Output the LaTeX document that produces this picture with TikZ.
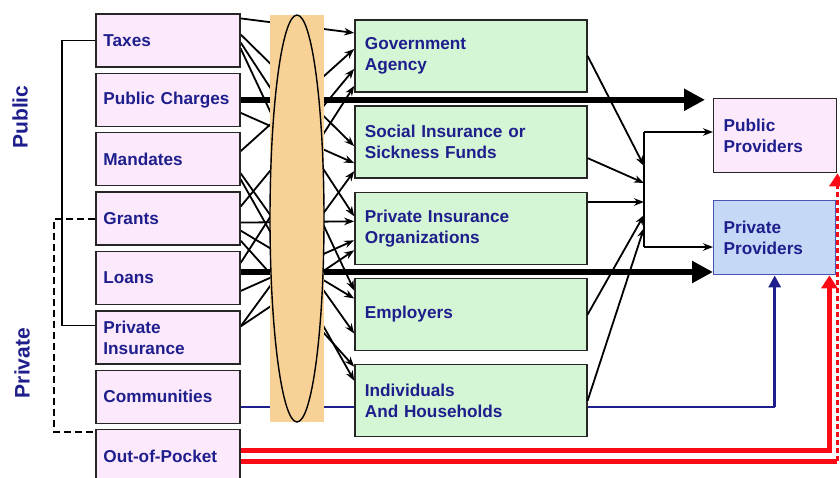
\documentclass[tikz,border=0pt]{standalone}
\usepackage{fontspec}
\setmainfont{Liberation Sans}
\usetikzlibrary{matrix,arrows.meta}

\definecolor{srcpink}{RGB}{252,233,252}
\definecolor{agentgreen}{RGB}{212,246,212}
\definecolor{privblue}{RGB}{197,216,246}
\definecolor{privedge}{RGB}{72,84,180}
\definecolor{poolorange}{RGB}{248,209,150}
\definecolor{labelnavy}{RGB}{30,30,140}
\definecolor{flowred}{RGB}{250,10,20}

\pgfdeclarelayer{back}
\pgfdeclarelayer{pool}
\pgfsetlayers{back,pool,main}

\begin{document}
\begin{tikzpicture}[x=1pt, y=-1pt,
	box/.style={draw=black!85, line width=1.4pt, align=left, anchor=center,
		text=labelnavy, font=\fontsize{17.2}{21}\selectfont\bfseries},
	srcbox/.style={box, fill=srcpink, text width=129pt, inner xsep=7.5pt, minimum height=53pt},
	agentbox/.style={box, fill=agentgreen, text width=212pt, inner xsep=10pt, minimum height=72pt},
	provbox/.style={box, anchor=north west, inner xsep=10pt, minimum height=74pt},
	sidelabel/.style={rotate=90, text=labelnavy, font=\fontsize{21}{25}\selectfont\bfseries},
	conn/.style={line width=1.8pt, -{Stealth[length=10pt,width=7.5pt]}},
	bigflow/.style={line width=6.5pt, -{Triangle[length=21pt,width=21pt]}},
	redflow/.style={flowred, line width=4.8pt, -{Triangle[length=13pt,width=16pt]}}]

	\useasboundingbox (0,0) rectangle (840,477);

	% where the money comes from
	\matrix (sources) [matrix of nodes, anchor=north west, inner sep=0pt,
	row sep=5.0pt, nodes={srcbox}] at (95,13)
	{
		|(taxes)| Taxes \\
		|(pubch)| Public Charges \\
		|(mand)| Mandates \\
		|(grants)| Grants \\
		|(loans)| Loans \\
		|(privins)| {Private\\Insurance} \\
		|(comm)| Communities \\
		|(oop)| Out-of-Pocket \\
	};

	% who pools it
	\matrix (agents) [matrix of nodes, anchor=north west, inner sep=0pt,
	row sep=12.8pt, nodes={agentbox}] at (354,19)
	{
		|(gov)| {Government\\Agency} \\
		|(sick)| {Social Insurance or\\Sickness Funds} \\
		|(pio)| {Private Insurance\\Organizations} \\
		|(emp)| Employers \\
		|(ind)| {Individuals\\And Households} \\
	};

	% who gets paid
	\node[provbox, fill=srcpink, text width=103pt] (pubprov) at (713,98) {Public\\Providers};
	\node[provbox, fill=privblue, draw=privedge, text width=102pt] (privprov) at (713,200) {Private\\Providers};

	\node[sidelabel] (publbl) at (20,117) {Public};
	\node[sidelabel] (privlbl) at (22,363) {Private};

	% brackets on the left
	\draw[line width=1.6pt] (taxes.west) -- ++(-33,0) |- ([yshift=12pt]privins.west);
	\draw[line width=1.8pt, dash pattern=on 7pt off 4pt] (grants.west) -- ++(-41,0) |- ([yshift=-3pt]oop.north west);

	% merge point in front of the providers
	\coordinate (jtop) at (644,132);
	\coordinate (jbot) at (644,247);
	\foreach \n/\y in {ja/166, jb/183, jc/202, jd/215, je/228}
		\coordinate (\n) at (644,\y);
	\draw[line width=1.8pt] (jtop) -- (jbot);
	\draw[conn] (jtop) -- (jtop -| pubprov.west);
	\draw[conn] (jbot) -- (jbot -| privprov.west);
	\draw[conn] (gov.east) -- (ja);
	\draw[conn] ([yshift=-16pt]sick.east) -- (jb);
	\draw[conn] (pio.east |- jc) -- (jc);
	\draw[conn] (emp.east) -- (jd);
	\draw[conn] (ind.east) -- (je);

	\coordinate (loanout) at ([yshift=6pt]loans.east);
	\coordinate (commout) at ([yshift=-10pt]comm.east);
	\coordinate (bluebend) at (commout -| privprov.south);
	\coordinate (oopa) at ([yshift=6pt]oop.east);
	\coordinate (oopb) at ([yshift=-5pt]oop.east);
	\coordinate (redup) at ([xshift=-7pt]privprov.south east);
	\coordinate (redturn) at (oopb -| pubprov.south east);

	\begin{pgfonlayer}{back}
		\fill[white] (0,0) rectangle (840,477);
		% sources to pooling agents
		\foreach \s/\sy/\t/\ty in {taxes/22/gov/23, taxes/6/sick/-4, taxes/-2/pio/12,
			taxes/-8/emp/24, pubch/-13/sick/-21, mand/8/gov/7, mand/-14/emp/-19,
			mand/-20/ind/20, grants/12/gov/-13, grants/-4/pio/7, grants/-12/emp/16,
			grants/-22/ind/34, loans/15/gov/-30, loans/-13/pio/-12,
			privins/11/pio/-22, privins/11/sick/-29}
			\draw[conn] ([yshift=\sy pt]\s.east) -- ([yshift=\ty pt]\t.west);
		% direct payments
		\draw[bigflow, shorten >=8pt] (pubch.east) -- (pubch.east -| pubprov.west);
		\draw[bigflow] (loanout) -- (loanout -| privprov.west);
		\draw[labelnavy, line width=2pt] (commout) -- (bluebend);
		\draw[labelnavy, line width=3.5pt, -{Triangle[length=12pt,width=12pt]}] (bluebend) -- (privprov.south);
		\draw[redflow] (oopa) -| (redup);
		\draw[redflow, -] (oopb) -- (redturn);
		\draw[redflow, line width=3pt, dash pattern=on 5pt off 3pt] (redturn) -- (pubprov.south east);
	\end{pgfonlayer}

	% the pool
	\begin{pgfonlayer}{pool}
		\fill[poolorange] (270,15) rectangle (324,422);
		\draw[line width=1.4pt] (297,218.5) ellipse [x radius=27pt, y radius=203.5pt];
	\end{pgfonlayer}
\end{tikzpicture}
\end{document}
